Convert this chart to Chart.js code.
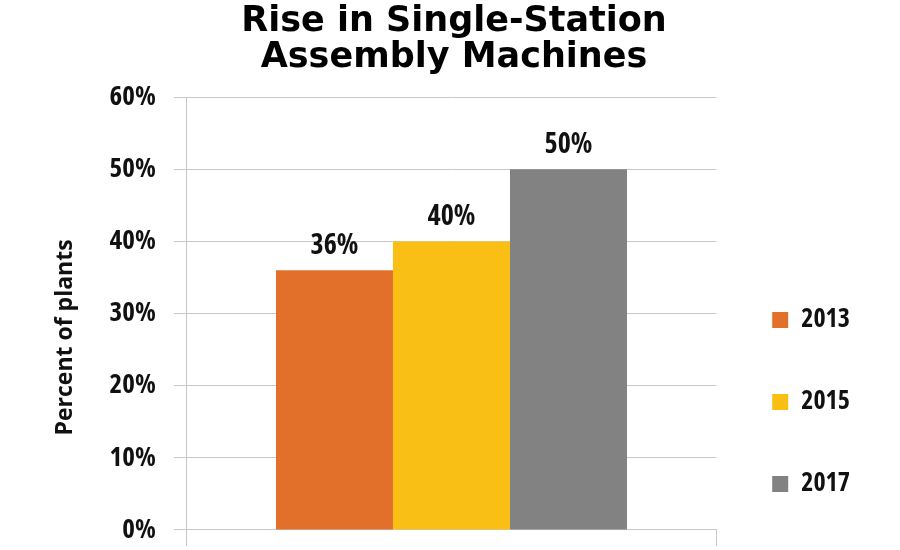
<!DOCTYPE html>
<html>
<head>
<meta charset="utf-8">
<script src="https://cdn.jsdelivr.net/npm/chart.js@4"></script>
<style>
  html, body { margin: 0; padding: 0; background: #fff; }
  #wrap { width: 900px; height: 550px; }
</style>
</head>
<body>
<div id="wrap"><canvas id="myChart"></canvas></div>
<script>
  const categories = [''];
  const years = ['2013', '2015', '2017'];
  const values = [36, 40, 50];
  const colors = ['#E2702A', '#F9BF15', '#828282'];
  const yTicks = [0, 10, 20, 30, 40, 50, 60];

  const narrow = "'Open Sans', 'DejaVu Sans', sans-serif";
  const narrowWeight = 'bold condensed';

  // draws the value above each bar
  const valueLabels = {
    id: 'valueLabels',
    afterDatasetsDraw(chart) {
      const ctx = chart.ctx;
      ctx.save();
      ctx.font = narrowWeight + ' 28px ' + narrow;
      ctx.fillStyle = '#111';
      ctx.textAlign = 'center';
      ctx.textBaseline = 'bottom';
      chart.data.datasets.forEach((ds, i) => {
        chart.getDatasetMeta(i).data.forEach((bar, j) => {
          ctx.fillText(ds.data[j] + '%', bar.x, bar.y - 10);
        });
      });
      ctx.restore();
    }
  };

  new Chart(document.getElementById('myChart'), {
    type: 'bar',
    data: {
      labels: categories,
      datasets: years.map((y, i) => ({
        label: y,
        data: [values[i]],
        backgroundColor: colors[i],
        borderWidth: 0
      }))
    },
    options: {
      responsive: true,
      maintainAspectRatio: false,
      animation: false,
      layout: { padding: { left: 48, right: 40, top: 4, bottom: -3 } },
      datasets: { bar: { barPercentage: 1, categoryPercentage: 0.663 } },
      plugins: {
        title: {
          display: true,
          text: ['Rise in Single-Station', 'Assembly Machines'],
          color: '#000',
          font: { family: "'DejaVu Sans', sans-serif", size: 35, weight: 'bold', lineHeight: 1.03 },
          padding: { top: 0, bottom: 21 }
        },
        legend: {
          position: 'right',
          align: 'end',
          labels: {
            color: '#111',
            boxWidth: 16,
            boxHeight: 16,
            padding: 56,
            font: { family: narrow, size: 26, weight: narrowWeight }
          }
        },
        tooltip: { enabled: false }
      },
      scales: {
        x: {
          grid: { display: true, drawOnChartArea: false, color: '#c8c8c8', tickLength: 16, offset: true },
          border: { display: true, color: '#c8c8c8' },
          ticks: { display: false }
        },
        y: {
          min: 0,
          max: 60,
          afterBuildTicks: (axis) => { axis.ticks = yTicks.map(v => ({ value: v })); },
          grid: { color: '#c8c8c8', tickLength: 13 },
          border: { display: true, color: '#c8c8c8' },
          ticks: {
            color: '#111',
            padding: 18,
            font: { family: narrow, size: 27, weight: narrowWeight, lineHeight: 0.15 },
            callback: (v) => v + '%'
          },
          title: {
            display: true,
            text: 'Percent of plants' + '\u00A0'.repeat(8),
            color: '#111',
            font: { family: narrow, size: 23, weight: 'bold' },
            padding: { bottom: 12 }
          }
        }
      }
    },
    plugins: [valueLabels]
  });
</script>
</body>
</html>
